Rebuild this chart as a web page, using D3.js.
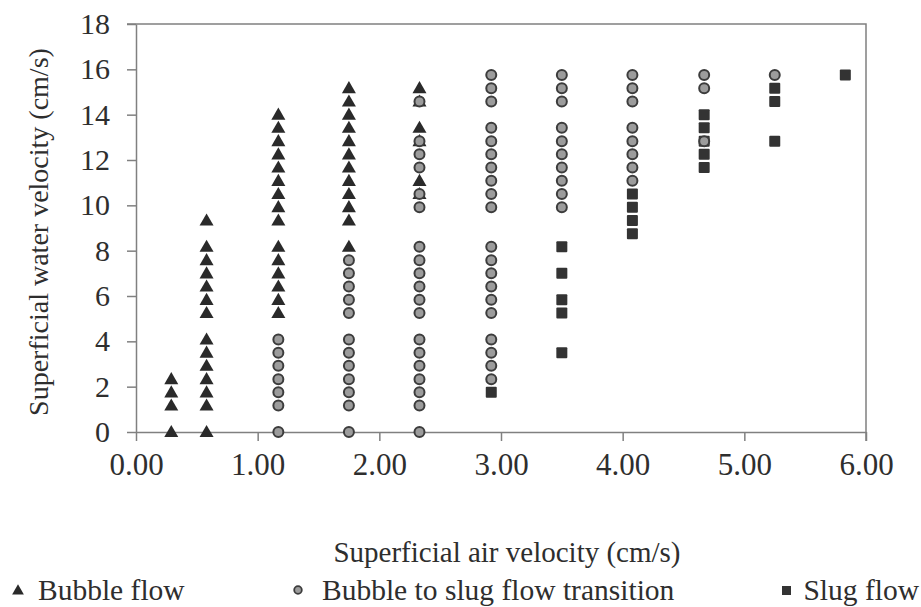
<!DOCTYPE html>
<html>
<head>
<meta charset="utf-8">
<script src="https://cdn.jsdelivr.net/npm/d3@7"></script>
<style>
  html, body { margin: 0; padding: 0; background: #fff; }
  svg { display: block; font-family: "Liberation Serif", "Times New Roman", serif; }
</style>
</head>
<body>
<svg id="chart"></svg>
<script>
// air velocity columns (cm/s)
const airVelocity = [0.29, 0.58, 1.17, 1.75, 2.33, 2.92, 3.50, 4.08, 4.67, 5.25, 5.83];

// water velocity values per air velocity column
const bubbleFlow = [
    [0, 1.17, 1.75, 2.33],
    [0, 1.17, 1.75, 2.33, 2.92, 3.50, 4.08, 5.25, 5.83, 6.42, 7.00, 7.58, 8.17, 9.33],
    [5.25, 5.83, 6.42, 7.00, 7.58, 8.17, 9.33, 9.92, 10.50, 11.08, 11.67, 12.25, 12.83, 13.42, 14.00],
    [8.17, 9.33, 9.92, 10.50, 11.08, 11.67, 12.25, 12.83, 13.42, 14.00, 14.58, 15.17],
    [10.50, 11.08, 12.83, 13.42, 14.58, 15.17],
    [], [], [], [], [], []
];

const transitionFlow = [
    [], [],
    [0, 1.17, 1.75, 2.33, 2.92, 3.50, 4.08],
    [0, 1.17, 1.75, 2.33, 2.92, 3.50, 4.08, 5.25, 5.83, 6.42, 7.00, 7.58],
    [0, 1.17, 1.75, 2.33, 2.92, 3.50, 4.08, 5.25, 5.83, 6.42, 7.00, 7.58, 8.17, 9.92, 10.50, 11.67, 12.25, 12.83, 14.58],
    [2.33, 2.92, 3.50, 4.08, 5.25, 5.83, 6.42, 7.00, 7.58, 8.17, 9.92, 10.50, 11.08, 11.67, 12.25, 12.83, 13.42, 14.58, 15.17, 15.75],
    [9.92, 10.50, 11.08, 11.67, 12.25, 12.83, 13.42, 14.58, 15.17, 15.75],
    [11.08, 11.67, 12.25, 12.83, 13.42, 14.58, 15.17, 15.75],
    [12.83, 15.17, 15.75],
    [15.75],
    []
];

const slugFlow = [
    [], [], [], [], [],
    [1.75],
    [3.50, 5.25, 5.83, 7.00, 8.17],
    [8.75, 9.33, 9.92, 10.50],
    [11.67, 12.25, 12.83, 13.42, 14.00],
    [12.83, 14.58, 15.17],
    [15.75]
];

const xTicks = [0, 1, 2, 3, 4, 5, 6];
const yTicks = [0, 2, 4, 6, 8, 10, 12, 14, 16, 18];
const legendLabels = ['Bubble flow', 'Bubble to slug flow transition', 'Slug flow'];

function toPoints(columns) {
    return columns.flatMap((ys, i) => ys.map(y => ({ x: airVelocity[i], y: y })));
}

function drawChart() {
    const width = 921, height = 607;
    const svg = d3.select('#chart')
        .attr('width', width)
        .attr('height', height);

    const left = 136, right = 866, top = 24, bottom = 432;
    const x = d3.scaleLinear().domain([0, 6]).range([left, right]);
    const y = d3.scaleLinear().domain([0, 18]).range([bottom, top]);

    const axisColor = '#808080';
    const textColor = '#2e2e2e';

    // frame
    svg.append('path')
        .attr('d', `M${left - 9},${top}H${right}V${bottom + 9}`)
        .attr('fill', 'none')
        .attr('stroke', axisColor)
        .attr('stroke-width', 1.5);

    const yAxis = svg.append('g')
        .attr('transform', `translate(${left},0)`)
        .call(d3.axisLeft(y).tickValues(yTicks).tickSize(9).tickSizeOuter(0).tickPadding(17));

    const xAxis = svg.append('g')
        .attr('transform', `translate(0,${bottom})`)
        .call(d3.axisBottom(x).tickValues(xTicks).tickSize(9).tickSizeOuter(0).tickPadding(12)
            .tickFormat(d3.format('.2f')));

    [xAxis, yAxis].forEach(g => {
        g.selectAll('path, line').attr('stroke', axisColor).attr('stroke-width', 1.5);
        g.selectAll('text')
            .attr('fill', textColor)
            .style('font-family', '"Liberation Serif", "Times New Roman", serif');
    });
    yAxis.selectAll('text').style('font-size', '30px');
    xAxis.selectAll('text').style('font-size', '31px');

    // axis titles
    svg.append('text')
        .attr('x', (left + right) / 2 + 6)
        .attr('y', 562)
        .attr('text-anchor', 'middle')
        .attr('fill', textColor)
        .style('font-size', '29px')
        .text('Superficial air velocity (cm/s)');

    svg.append('text')
        .attr('transform', `translate(48,${(top + bottom) / 2 + 4}) rotate(-90)`)
        .attr('text-anchor', 'middle')
        .attr('fill', textColor)
        .style('font-size', '28px')
        .text('Superficial water velocity (cm/s)');

    const triangle = d3.symbol().type(d3.symbolTriangle).size(85);

    svg.append('g')
        .selectAll('path')
        .data(toPoints(bubbleFlow))
        .enter()
        .append('path')
        .attr('transform', d => `translate(${x(d.x)},${y(d.y) + 1})`)
        .attr('d', triangle)
        .attr('fill', '#2a2a2a');

    svg.append('g')
        .selectAll('rect')
        .data(toPoints(slugFlow))
        .enter()
        .append('rect')
        .attr('x', d => x(d.x) - 5.5)
        .attr('y', d => y(d.y) - 5.5)
        .attr('width', 11)
        .attr('height', 11)
        .attr('rx', 1)
        .attr('fill', '#333');

    svg.append('g')
        .selectAll('circle')
        .data(toPoints(transitionFlow))
        .enter()
        .append('circle')
        .attr('cx', d => x(d.x))
        .attr('cy', d => y(d.y))
        .attr('r', 5)
        .attr('fill', '#9c9c9c')
        .attr('stroke', '#3c3c3c')
        .attr('stroke-width', 2);

    // legend
    const legend = svg.append('g');
    const legendY = 591;

    legend.append('path')
        .attr('transform', `translate(18,${legendY})`)
        .attr('d', d3.symbol().type(d3.symbolTriangle).size(60))
        .attr('fill', '#2a2a2a');
    legend.append('circle')
        .attr('cx', 298).attr('cy', legendY - 1).attr('r', 3.8)
        .attr('fill', '#9c9c9c').attr('stroke', '#3c3c3c').attr('stroke-width', 1.8);
    legend.append('rect')
        .attr('x', 782).attr('y', legendY - 5).attr('width', 9).attr('height', 9)
        .attr('fill', '#333');

    legend.selectAll('text')
        .data(legendLabels)
        .enter()
        .append('text')
        .attr('x', (d, i) => [38, 322, 919][i])
        .attr('y', legendY + 9)
        .attr('text-anchor', (d, i) => i === 2 ? 'end' : 'start')
        .attr('fill', textColor)
        .style('font-size', '29.5px')
        .text(d => d);
}

drawChart();
</script>
</body>
</html>
